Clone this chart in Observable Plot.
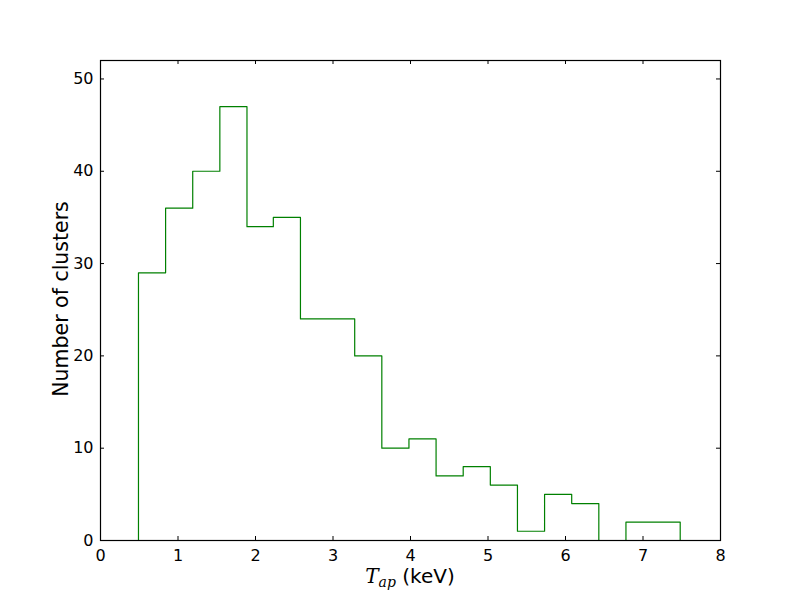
<!DOCTYPE html>
<html><head><meta charset="utf-8">
<script src="https://cdn.jsdelivr.net/npm/d3@7"></script>
<script src="https://cdn.jsdelivr.net/npm/@observablehq/plot@0.6"></script>
<style>
body{margin:0;background:#fff}
svg{font-family:"DejaVu Sans",sans-serif}
</style>
</head><body><div id="chart"></div>
<script>
const binEdges = [0.49, 0.84, 1.19, 1.54, 1.89, 2.23, 2.58, 2.93, 3.28, 3.63, 3.98, 4.33, 4.68, 5.03, 5.38, 5.73, 6.08, 6.43, 6.78, 7.13, 7.48];
const counts = [29, 36, 40, 47, 34, 35, 24, 24, 20, 10, 11, 7, 8, 6, 1, 5, 4, 0, 2, 2];
const xTicks = [0, 1, 2, 3, 4, 5, 6, 7, 8];
const yTicks = [0, 10, 20, 30, 40, 50];

const pts = [{x: binEdges[0], y: 0}];
counts.forEach((c, i) => pts.push({x: binEdges[i], y: c}));
pts.push({x: binEdges[binEdges.length - 1], y: 0});

const W = 800, H = 600, mL = 100, mR = 80, mT = 60, mB = 60;
const xMax = 8, yMax = 52;
const tx = 4 * xMax / (W - mL - mR), ty = 4 * yMax / (H - mT - mB);

const plot = Plot.plot({
  width: W, height: H,
  marginLeft: mL, marginRight: mR, marginTop: mT, marginBottom: mB,
  x: {domain: [0, xMax]},
  y: {domain: [0, yMax]},
  style: {fontFamily: "DejaVu Sans", fontSize: "15px", color: "black", background: "white"},
  marks: [
    Plot.axisX(xTicks, {tickSize: 0, tickPadding: 9, fontSize: 15, label: null}),
    Plot.axisY(yTicks, {tickSize: 0, tickPadding: 7, fontSize: 15, label: null}),
    Plot.ruleX(xTicks, {x: d => d, y1: 0, y2: ty, stroke: "black"}),
    Plot.ruleX(xTicks, {x: d => d, y1: yMax - ty, y2: yMax, stroke: "black"}),
    Plot.ruleY(yTicks, {y: d => d, x1: 0, x2: tx, stroke: "black"}),
    Plot.ruleY(yTicks, {y: d => d, x1: xMax - tx, x2: xMax, stroke: "black"}),
    Plot.line(pts, {x: "x", y: "y", curve: "step-after", stroke: "#008000", strokeWidth: 1.2}),
    Plot.frame({stroke: "black", strokeWidth: 1.2})
  ]
});
document.getElementById("chart").appendChild(plot);

const svg = d3.select(plot);
svg.selectAll("text")
  .filter(function () { return /^\d+$/.test(this.textContent.trim()); })
  .attr("font-size", 16)
  .style("font-size", "16px");
svg.append("text")
  .attr("transform", "translate(68,299) rotate(-90)")
  .attr("text-anchor", "middle")
  .style("font-size", "20.5px")
  .attr("fill", "black")
  .text("Number of clusters");
const xl = svg.append("text")
  .attr("x", 410).attr("y", 583)
  .attr("text-anchor", "middle")
  .style("font-size", "20px")
  .attr("fill", "black");
xl.append("tspan").attr("font-family", "DejaVu Serif").attr("font-style", "italic").text("T");
xl.append("tspan").attr("font-family", "DejaVu Serif").attr("font-style", "italic").style("font-size", "14px").attr("dy", 4).text("ap");
xl.append("tspan").attr("dy", -4).text(" (keV)");
</script></body></html>
